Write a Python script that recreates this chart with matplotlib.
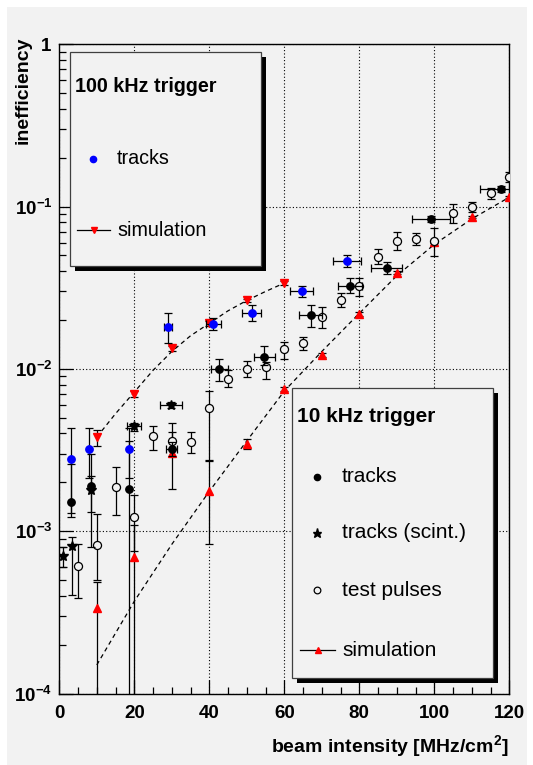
import matplotlib
matplotlib.use('Agg')
import matplotlib.pyplot as plt
from matplotlib.patches import Rectangle
from matplotlib.lines import Line2D
from matplotlib.ticker import FixedLocator, MultipleLocator, LogLocator, NullFormatter
import numpy as np

plt.rcParams['font.family'] = ['Liberation Sans', 'DejaVu Sans']
plt.rcParams['mathtext.fontset'] = 'custom'
plt.rcParams['mathtext.rm'] = 'Liberation Sans'
plt.rcParams['mathtext.bf'] = 'Liberation Sans:bold'
plt.rcParams['mathtext.it'] = 'Liberation Sans:italic'

W, H = 533, 765
BG = '#f2f2f2'

# ---------------- data ----------------
# 100 kHz trigger: tracks (blue)
trk100_x = [3, 8, 18.6, 29, 41, 51.3, 64.6, 76.8]
trk100_y = [2.79e-3, 3.22e-3, 3.22e-3, 1.82e-2, 1.90e-2, 2.21e-2, 3.0e-2, 4.65e-2]
trk100_xerr = [0, 0, 0, 1.0, 2.0, 2.5, 3.0, 3.7]
trk100_elo = [1.5e-3, 1.1e-3, 1.1e-3, 3.7e-3, 1.6e-3, 2.5e-3, 2.2e-3, 3.8e-3]
trk100_ehi = [1.55e-3, 1.13e-3, 1.1e-3, 3.9e-3, 1.7e-3, 2.6e-3, 2.2e-3, 3.9e-3]

# 100 kHz trigger: simulation (red down triangles)
sim100_x = [10, 20, 30, 40, 50, 60]
sim100_y = [3.80e-3, 7.03e-3, 1.34e-2, 1.91e-2, 2.64e-2, 3.38e-2]
sim100_elo = [4.3e-4, 3e-4, 5e-4, 6e-4, 7e-4, 8e-4]
sim100_ehi = [4.2e-4, 3e-4, 5e-4, 6e-4, 7e-4, 8e-4]

# 10 kHz trigger: tracks (black dots)
trk10_x = [3, 8.5, 18.6, 30, 42.7, 54.7, 67, 77.5, 87.3, 99.1, 117.7]
trk10_y = [1.51e-3, 1.91e-3, 1.81e-3, 3.22e-3, 1.0e-2, 1.18e-2, 2.15e-2, 3.26e-2, 4.21e-2, 8.4e-2, 0.1285]
trk10_xerr = [0, 0, 0, 1.5, 2.2, 2.7, 3.1, 3.2, 4.2, 5.0, 5.6]
trk10_elo = [2.9e-4, 6.0e-4, 1.8099e-3, 3e-4, 1.55e-3, 1.3e-3, 3.3e-3, 3.3e-3, 3.6e-3, 4e-3, 5e-3]
trk10_ehi = [1.1e-3, 1.09e-3, 1.8e-3, 3e-4, 1.5e-3, 2.1e-3, 3.3e-3, 3.6e-3, 3.7e-3, 4e-3, 5e-3]

# 10 kHz trigger: tracks (scint.) (stars)
scint_x = [0.9, 3.3, 8.5, 19.9, 29.8]
scint_y = [7.0e-4, 8.05e-4, 1.8e-3, 4.42e-3, 6.0e-3]
scint_xerr = [0, 0, 0, 1.8, 3.0]
scint_elo = [0.95e-4, 4.0e-4, 1.0e-3, 2.5e-4, 2.5e-4]
scint_ehi = [0.95e-4, 1.1e-4, 4.0e-4, 2.5e-4, 2.5e-4]

# 10 kHz trigger: test pulses (open circles)
tp_x = [5.1, 10, 15, 19.9, 25, 30, 35, 40, 45, 50, 55, 60, 65, 70, 75, 80, 85, 90, 95, 100, 105, 110, 115, 120]
tp_y = [6.07e-4, 8.18e-4, 1.87e-3, 1.23e-3, 3.84e-3, 3.61e-3, 3.54e-3, 5.74e-3, 8.69e-3, 1.0e-2,
        1.03e-2, 1.32e-2, 1.44e-2, 2.10e-2, 2.67e-2, 3.22e-2, 4.92e-2, 6.15e-2, 6.33e-2, 6.15e-2,
        9.18e-2, 0.100, 0.121, 0.153]
tp_elo = [2.2e-4, 3.2e-4, 6.2e-4, 4.8e-4, 6.6e-4, 4e-4, 5.1e-4, 3.0e-3, 1.0e-3, 1.1e-3,
          1.6e-3, 1.7e-3, 1.3e-3, 3.2e-3, 2.6e-3, 4e-3, 5e-3, 7.4e-3, 5.5e-3, 1.2e-2,
          1.2e-2, 7e-3, 9e-3, 1.1e-2]
tp_ehi = [2.3e-4, 4.6e-4, 6.2e-4, 4.5e-4, 6.3e-4, 5e-4, 5.7e-4, 1.52e-3, 1.2e-3, 1.2e-3,
          0.8e-3, 1.5e-3, 1.4e-3, 3.2e-3, 2.6e-3, 4e-3, 5.7e-3, 8.7e-3, 5.9e-3, 1.2e-2,
          1.2e-2, 6e-3, 9e-3, 1.1e-2]

# 10 kHz trigger: simulation (red up triangles)
sim10_x = [10, 20, 30, 40, 50, 60, 70, 80, 90, 100, 110, 120]
sim10_y = [3.37e-4, 6.9e-4, 3.03e-3, 1.76e-3, 3.44e-3, 7.5e-3, 1.22e-2, 2.18e-2, 3.92e-2, 6.09e-2, 8.6e-2, 0.1142]
sim10_elo = [3.3699e-4, 6.8999e-4, 1.2e-3, 9.3e-4, 2.4e-4, 2e-4, 3e-4, 5e-4, 8e-4, 1.2e-3, 1.5e-3, 2e-3]
sim10_ehi = [1.5e-4, 4e-4, 1.6e-3, 9.6e-4, 2.6e-4, 2e-4, 3e-4, 5e-4, 8e-4, 1.2e-3, 1.5e-3, 2e-3]

# dashed simulation curves
curve100_x = [10, 15, 20, 25, 30, 35, 40, 45, 50, 55, 60]
curve100_y = [3.8e-3, 5.3e-3, 7.2e-3, 9.8e-3, 1.28e-2, 1.6e-2, 1.91e-2, 2.28e-2, 2.64e-2, 3.0e-2, 3.38e-2]
curve10_x = [10, 20, 30, 40, 50, 60, 70, 80, 90, 100, 110, 120]
curve10_y = [1.5e-4, 3.7e-4, 8.3e-4, 1.76e-3, 3.6e-3, 7.3e-3, 1.28e-2, 2.2e-2, 3.75e-2, 5.85e-2, 8.4e-2, 0.1142]

xticks = [0, 20, 40, 60, 80, 100, 120]
yticks = [1e-4, 1e-3, 1e-2, 1e-1, 1]
yticklabels = [r'$\mathbf{10^{-4}}$', r'$\mathbf{10^{-3}}$', r'$\mathbf{10^{-2}}$', r'$\mathbf{10^{-1}}$', r'$\mathbf{1}$']

legend100_title = '100 kHz trigger'
legend100_labels = ['tracks', 'simulation']
legend10_title = '10 kHz trigger'
legend10_labels = ['tracks', 'tracks (scint.)', 'test pulses', 'simulation']

# ---------------- figure ----------------
fig = plt.figure(figsize=(W / 100, H / 100), dpi=100)
fig.patch.set_facecolor('white')
fig.add_artist(Rectangle((7 / W, 0), (527 - 7) / W, 1 - 7 / H, transform=fig.transFigure,
                         facecolor=BG, edgecolor='none', zorder=-10))

ax_l, ax_r, ax_t, ax_b = 59.3, 509.3, 44.3, 693.5
ax = fig.add_axes([ax_l / W, 1 - ax_b / H, (ax_r - ax_l) / W, (ax_b - ax_t) / H])
ax.set_facecolor(BG)
ax.set_yscale('log')
ax.set_xlim(0, 120)
ax.set_ylim(1e-4, 1)

ax.xaxis.set_major_locator(FixedLocator(xticks))
ax.set_xticklabels([str(v) for v in xticks], fontsize=13.5, fontweight='bold')
ax.xaxis.set_minor_locator(MultipleLocator(5))
ax.yaxis.set_major_locator(FixedLocator(yticks))
ax.set_yticklabels(yticklabels, fontsize=13.5)
ax.yaxis.set_minor_locator(LogLocator(base=10, subs=np.arange(2, 10), numticks=20))
ax.yaxis.set_minor_formatter(NullFormatter())

ax.tick_params(which='major', direction='in', length=10, width=0.9, pad=5)
ax.tick_params(which='minor', direction='in', length=5, width=0.9)
ax.tick_params(axis='x', which='major', pad=8)
for s in ax.spines.values():
    s.set_linewidth(1.0)
    s.set_color('black')

ax.grid(True, which='major', linestyle=(0, (1, 2)), color='black', linewidth=0.8)

eb = dict(ecolor='black', elinewidth=0.9, capsize=3, capthick=0.9, linestyle='none')

# curves
ax.plot(curve100_x, curve100_y, color='black', lw=0.9, linestyle=(0, (3.5, 2.8)), zorder=3)
ax.plot(curve10_x, curve10_y, color='black', lw=0.9, linestyle=(0, (3.5, 2.8)), zorder=3)

ax.errorbar(sim10_x, sim10_y, yerr=[sim10_elo, sim10_ehi], fmt='^', color='red', mec='red',
            ms=5.5, zorder=4, **eb)
ax.errorbar(sim100_x, sim100_y, yerr=[sim100_elo, sim100_ehi], fmt='v', color='red', mec='red',
            ms=5.5, zorder=4, **eb)
ax.errorbar(tp_x, tp_y, yerr=[tp_elo, tp_ehi], fmt='o', mfc=BG, mec='black', mew=0.9,
            ms=5.8, zorder=5, **eb)
ax.errorbar(scint_x, scint_y, xerr=scint_xerr, yerr=[scint_elo, scint_ehi], fmt='*',
            color='black', ms=7.5, zorder=6, **eb)
ax.errorbar(trk10_x, trk10_y, xerr=trk10_xerr, yerr=[trk10_elo, trk10_ehi], fmt='o',
            color='black', ms=5.3, zorder=6, **eb)
ax.errorbar(trk100_x, trk100_y, xerr=trk100_xerr, yerr=[trk100_elo, trk100_ehi], fmt='o',
            color='blue', mec='blue', ms=5.3, zorder=6, **eb)

# axis titles
fig.text(23 / W, 1 - 37 / H, 'inefficiency', rotation=90, ha='center', va='top',
         fontsize=14, fontweight='bold')
fig.text(509 / W, 1 - 746 / H, r'beam intensity [MHz/cm$\mathbf{^{2}}$]', ha='right',
         va='center', fontsize=14, fontweight='bold')


# ---------------- legends ----------------
def fx(x):
    return x / W


def fy(y):
    return 1 - y / H


def box(x0, y0, x1, y1, sh=5):
    fig.add_artist(Rectangle((fx(x0 + sh), fy(y1 + sh)), (x1 - x0) / W, (y1 - y0) / H,
                             transform=fig.transFigure, facecolor='black', edgecolor='none', zorder=20))
    fig.add_artist(Rectangle((fx(x0), fy(y1)), (x1 - x0) / W, (y1 - y0) / H,
                             transform=fig.transFigure, facecolor=BG, edgecolor='#404040',
                             linewidth=0.9, zorder=21))


def mark(x, y, **kw):
    fig.add_artist(Line2D([fx(x)], [fy(y)], transform=fig.transFigure, linestyle='none', zorder=22, **kw))


def simline(x0, x1, y, xm, m):
    fig.add_artist(Line2D([fx(x0), fx(x1)], [fy(y), fy(y)], transform=fig.transFigure,
                          color='black', lw=0.9, zorder=22))
    mark(xm, y, marker=m, color='red', mec='red', ms=4.8)


# 100 kHz legend
box(70, 51.7, 260.7, 265.7)
fig.text(fx(75), fy(87), legend100_title, ha='left', va='center', fontsize=14.2,
         fontweight='bold', zorder=23)
mark(93.3, 159, marker='o', color='blue', mec='blue', ms=4.5)
fig.text(fx(117), fy(159), legend100_labels[0], ha='left', va='center', fontsize=14.2, zorder=23)
simline(77, 110, 230, 93.5, 'v')
fig.text(fx(117), fy(230), legend100_labels[1], ha='left', va='center', fontsize=14.2, zorder=23)

# 10 kHz legend
box(292.3, 388.3, 493.3, 678.3)
fig.text(fx(297), fy(417), legend10_title, ha='left', va='center', fontsize=15,
         fontweight='bold', zorder=23)
mark(317.3, 476.7, marker='o', color='black', ms=4.5)
fig.text(fx(342), fy(476.7), legend10_labels[0], ha='left', va='center', fontsize=15, zorder=23)
mark(317.3, 532.7, marker='*', color='black', ms=6.5)
fig.text(fx(342), fy(532.7), legend10_labels[1], ha='left', va='center', fontsize=15, zorder=23)
mark(317.3, 590, marker='o', mfc=BG, mec='black', mew=0.9, ms=4.8)
fig.text(fx(342), fy(590), legend10_labels[2], ha='left', va='center', fontsize=15, zorder=23)
simline(300, 335, 650, 317.5, '^')
fig.text(fx(342), fy(650), legend10_labels[3], ha='left', va='center', fontsize=15, zorder=23)

fig.savefig('out.png', dpi=100, facecolor=fig.get_facecolor())
